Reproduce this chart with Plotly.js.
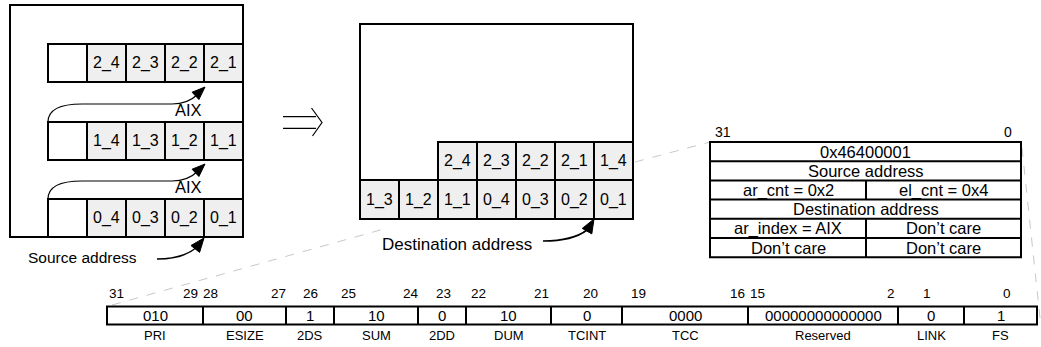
<!DOCTYPE html>
<html><head><meta charset="utf-8">
<script src="https://cdn.plot.ly/plotly-3.0.1.min.js"></script>
<style>html,body{margin:0;padding:0;background:#fff;overflow:hidden;}</style>
</head><body><div id="chart" style="width:1041px;height:347px;"></div>
<script>
// ---------- data ----------
const srcRow2 = ["2_4", "2_3", "2_2", "2_1"];
const srcRow1 = ["1_4", "1_3", "1_2", "1_1"];
const srcRow0 = ["0_4", "0_3", "0_2", "0_1"];
const dstUpper = ["2_4", "2_3", "2_2", "2_1", "1_4"];
const dstLower = ["1_3", "1_2", "1_1", "0_4", "0_3", "0_2", "0_1"];
const strideLabel = "AIX";
const srcCaption = "Source address";
const dstCaption = "Destination address";
const paramLeft = ["0x46400001", "Source address", "ar_cnt = 0x2", "Destination address", "ar_index = AIX", "Don’t care"];
const paramRight = [null, null, "el_cnt = 0x4", null, "Don’t care", "Don’t care"];
const paramBits = ["31", "0"];
const fieldNames = ["PRI", "ESIZE", "2DS", "SUM", "2DD", "DUM", "TCINT", "TCC", "Reserved", "LINK", "FS"];
const fieldValues = ["010", "00", "1", "10", "0", "10", "0", "0000", "00000000000000", "0", "1"];
const fieldBitLabels = ["31", "29", "28", "27", "26", "25", "24", "23", "22", "21", "20", "19", "16", "15", "2", "1", "0"];

// ---------- layout geometry ----------
const FONT = "Liberation Sans, Arial, Helvetica, sans-serif";
const CELL_W = 39, CELL_FILL = "#efefef";
const shapes = [], ann = [];
function rect(x0, y0, x1, y1, fill, w) {
  shapes.push({type: "rect", xref: "x", yref: "y", x0, y0, x1, y1,
    fillcolor: fill || "rgba(0,0,0,0)", line: {color: "#000", width: w || 2}});
}
function line(x0, y0, x1, y1, w, dash, color) {
  shapes.push({type: "line", xref: "x", yref: "y", x0, y0, x1, y1,
    line: {color: color || "#000", width: w || 2, dash: dash || "solid"}});
}
function path(d, w, fill) {
  shapes.push({type: "path", xref: "x", yref: "y", path: d,
    fillcolor: fill || "rgba(0,0,0,0)", line: {color: "#000", width: w || 1.3}});
}
function text(t, x, y, size, xanchor) {
  ann.push({text: t, x, y, xref: "x", yref: "y", showarrow: false,
    xanchor: xanchor || "center", yanchor: "middle", borderpad: 0,
    font: {family: FONT, size: size, color: "#000"}});
}
function head(tx, ty, dx, dy, len, half) {
  const n = Math.hypot(dx, dy); dx /= n; dy /= n;
  const bx = tx - dx * len, by = ty - dy * len;
  const px = -dy * half, py = dx * half;
  path(`M ${tx} ${ty} L ${bx + px} ${by + py} L ${bx - px} ${by - py} Z`, 1, "#000");
}

// dashed guide lines (behind)
line(112, 305, 384, 229, 1, "dash", "#c8c8c8");
line(635, 162, 710, 142, 1, "dash", "#c8c8c8");
line(1022, 148, 1040, 318, 1, "dash", "#c8c8c8");

// ---- source block ----
rect(10, 5, 243, 237);
const srcRows = [[srcRow2, 44, 82], [srcRow1, 122, 160], [srcRow0, 199, 237]];
srcRows.forEach(([row, y0, y1]) => {
  rect(48, y0, 87, y1, "#ffffff");
  row.forEach((lab, i) => {
    const x0 = 87 + i * CELL_W;
    rect(x0, y0, x0 + CELL_W, y1, CELL_FILL);
    text(lab, x0 + CELL_W / 2, (y0 + y1) / 2, 16);
  });
});
// stride curves
[0, 77].forEach(off => {
  path(`M 48 ${122 + off} C 48 ${109 + off}, 60 ${104 + off}, 82 ${104 + off} L 172 ${104 + off} C 184 ${104 + off}, 192 ${100 + off}, 198 ${94 + off}`, 1.2);
  head(205, 87 + off, 15, -14, 13, 5);
  text(strideLabel, 188, 110 + off, 16.5);
});
// source caption + arrow
text(srcCaption, 82, 257, 15.5);
path("M 157 259 C 176 259, 188 255, 197 247", 1.6);
head(204, 238, 0.62, -0.78, 14, 5.5);

// ---- implication arrow ----
line(283, 116.7, 316, 116.7, 1.2);
line(283, 128.3, 316, 128.3, 1.2);
path("M 311.5 108 L 322 122.5 L 312.5 136", 1.2);

// ---- destination block ----
rect(360, 24, 633, 219);
dstUpper.forEach((lab, i) => {
  const x0 = 633 - (dstUpper.length - i) * CELL_W;
  rect(x0, 142, x0 + CELL_W, 180, CELL_FILL);
  text(lab, x0 + CELL_W / 2, 161, 16);
});
dstLower.forEach((lab, i) => {
  const x0 = 360 + i * CELL_W;
  rect(x0, 180, x0 + CELL_W, 219, CELL_FILL);
  text(lab, x0 + CELL_W / 2, 199.5, 16);
});
text(dstCaption, 457, 244, 17);
path("M 543 241 C 565 241, 578 237, 587 230", 1.6);
head(594, 219, 0.5, -0.87, 14, 5.5);

// ---- parameter table ----
const tY0 = 142, tRowH = 19.2, tX0 = 710, tX1 = 1021, tMid = 866;
text(paramBits[0], 723, 132, 14);
text(paramBits[1], 1008, 132, 14);
paramLeft.forEach((lab, r) => {
  const y0 = tY0 + r * tRowH, y1 = y0 + tRowH;
  if (paramRight[r] === null) {
    text(lab, (tX0 + tX1) / 2, (y0 + y1) / 2, 16.5);
  } else {
    text(lab, (tX0 + tMid) / 2, (y0 + y1) / 2, 16.5);
    text(paramRight[r], (tMid + tX1) / 2, (y0 + y1) / 2, 16.5);
    line(tMid, y0, tMid, y1, 2);
  }
  if (r > 0) line(tX0, y0, tX1, y0, 2);
});
rect(tX0, tY0, tX1, tY0 + paramLeft.length * tRowH);

// ---- option bit field ----
const fieldEdges = [107, 203, 286, 334, 418, 466, 551, 622, 748, 898, 964, 1037];
// [x position, anchor] for each bit label
const bitLabelPos = [[108, "left"], [199, "right"], [202, "left"], [287, "right"], [310, "center"],
  [340, "left"], [420, "right"], [443, "center"], [470, "left"], [550, "right"], [590, "center"],
  [630, "left"], [746, "right"], [749, "left"], [896, "right"], [927, "center"], [1007, "center"]];
const fY0 = 306.5, fY1 = 324.5;
rect(fieldEdges[0], fY0, fieldEdges[fieldEdges.length - 1], fY1);
fieldValues.forEach((v, i) => {
  const xa = fieldEdges[i], xb = fieldEdges[i + 1];
  if (i > 0) line(xa, fY0, xa, fY1, 2);
  text(v, (xa + xb) / 2, (fY0 + fY1) / 2, 15);
  text(fieldNames[i], (xa + xb) / 2, 335.5, 13);
});
fieldBitLabels.forEach((b, i) => text(b, bitLabelPos[i][0], 293, 13.5, bitLabelPos[i][1]));

Plotly.newPlot("chart", [], {
  width: 1041, height: 347,
  margin: {l: 0, r: 0, t: 0, b: 0, pad: 0},
  paper_bgcolor: "#ffffff", plot_bgcolor: "#ffffff",
  xaxis: {range: [0, 1041], visible: false, fixedrange: true},
  yaxis: {range: [347, 0], visible: false, fixedrange: true},
  showlegend: false,
  shapes: shapes,
  annotations: ann
}, {displayModeBar: false, staticPlot: true});
</script>
</body></html>
